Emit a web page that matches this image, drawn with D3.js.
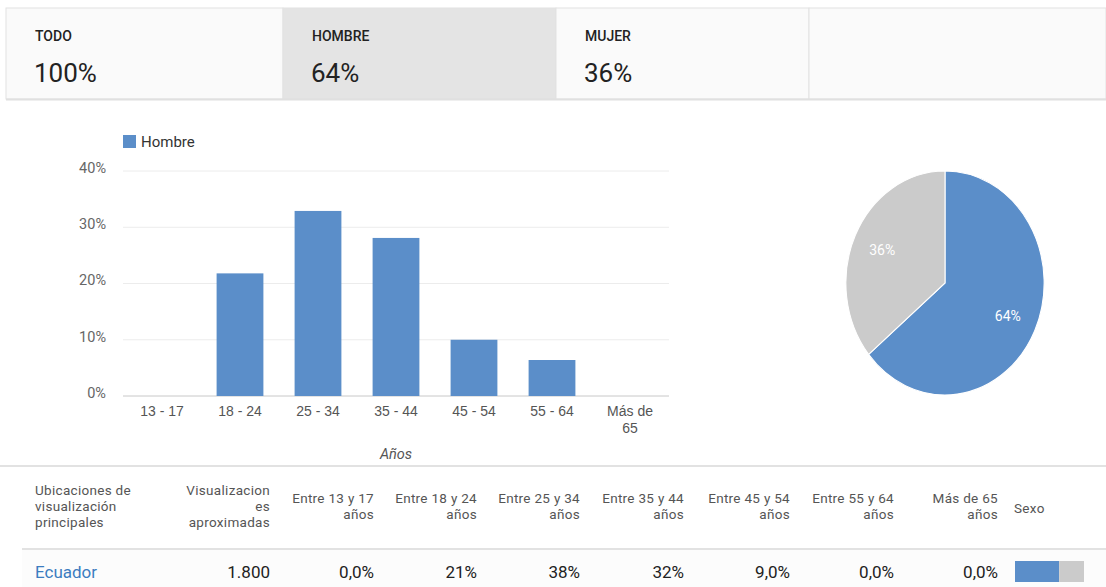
<!DOCTYPE html>
<html>
<head>
<meta charset="utf-8">
<script src="https://cdn.jsdelivr.net/npm/d3@7"></script>
<style>
  html, body { margin: 0; padding: 0; background: #fff; }
  svg { display: block; font-family: Roboto, "Noto Sans", sans-serif; }
</style>
</head>
<body>
<svg id="chart" width="1106" height="587"></svg>
<script>
// Summary tabs
const tabLabels = ["TODO", "HOMBRE", "MUJER", ""];
const tabValues = ["100%", "64%", "36%", ""];

// Age distribution for the selected gender (percent)
const ageGroups = ["13 - 17", "18 - 24", "25 - 34", "35 - 44", "45 - 54", "55 - 64", "Más de 65"];
const hombreShare = [0, 21.8, 32.9, 28.1, 10.0, 6.4, 0];
const yTicks = [0, 10, 20, 30, 40];

// Gender split
const genderNames = ["Hombre", "Mujer"];
const genderShare = [64, 36];

// Table
const tableHeaders = [
  ["Ubicaciones de", "visualización", "principales"],
  ["Visualizacion", "es", "aproximadas"],
  ["Entre 13 y 17", "años"],
  ["Entre 18 y 24", "años"],
  ["Entre 25 y 34", "años"],
  ["Entre 35 y 44", "años"],
  ["Entre 45 y 54", "años"],
  ["Entre 55 y 64", "años"],
  ["Más de 65", "años"],
  ["Sexo"]
];
const tableRow = ["Ecuador", "1.800", "0,0%", "21%", "38%", "32%", "9,0%", "0,0%", "0,0%"];

const BLUE = "#5b8ec9";
const GREY = "#cbcbcb";
const svg = d3.select("#chart");

// ---- Tabs ----
const tabX = [6, 283, 556, 809];
const tabW = [277, 273, 253, 297];
const tabs = svg.append("g");
tabLabels.forEach((lab, i) => {
  const g = tabs.append("g").attr("transform", `translate(${tabX[i]},8)`);
  g.append("rect").attr("width", tabW[i]).attr("height", 91)
    .attr("fill", i === 1 ? "#e4e4e4" : "#fafafa")
    .attr("stroke", "#e2e2e2").attr("stroke-width", 1);
  g.append("text").attr("x", 29).attr("y", 33).attr("font-size", 14)
    .attr("font-weight", 500).attr("fill", "#222").text(lab);
  g.append("text").attr("x", 28).attr("y", 74).attr("font-size", 26)
    .attr("fill", "#222").text(tabValues[i]);
});
tabs.append("line").attr("x1", 6).attr("x2", 1106).attr("y1", 99.5).attr("y2", 99.5)
  .attr("stroke", "#e0e0e0").attr("stroke-width", 2);

// ---- Bar chart ----
const x = d3.scaleBand().domain(ageGroups).range([123, 669]).paddingInner(0.4).paddingOuter(0.2);
const y = d3.scaleLinear().domain([0, 40]).range([396, 171]);
const bar = svg.append("g");

bar.selectAll("line.grid").data(yTicks).join("line")
  .attr("x1", 123).attr("x2", 669)
  .attr("y1", d => y(d)).attr("y2", d => y(d))
  .attr("stroke", d => d === 0 ? "#c8c8c8" : "#ececec").attr("stroke-width", 1);

const yAxis = bar.append("g").attr("transform", "translate(109,0)")
  .call(d3.axisLeft(y).tickValues(yTicks).tickFormat(d => d + "%").tickSize(0));
yAxis.select(".domain").remove();
yAxis.selectAll("text").attr("font-size", 14.5).attr("fill", "#666")
  .attr("font-family", "Roboto, sans-serif").attr("dy", "0.1em");

bar.selectAll("rect.bar").data(ageGroups).join("rect")
  .attr("x", d => x(d)).attr("width", x.bandwidth())
  .attr("y", (d, i) => y(hombreShare[i]))
  .attr("height", (d, i) => y(0) - y(hombreShare[i]))
  .attr("fill", BLUE);

const xAxis = bar.append("g").attr("transform", "translate(0,396)")
  .call(d3.axisBottom(x).tickSize(0).tickFormat(""));
xAxis.select(".domain").remove();
xAxis.selectAll(".tick").each(function (d) {
  const t = d3.select(this).append("text").attr("text-anchor", "middle")
    .attr("font-size", 14).attr("fill", "#555");
  const lines = d === "Más de 65" ? ["Más de", "65"] : [d];
  lines.forEach((l, k) => t.append("tspan").attr("x", 0).attr("y", 20 + k * 17).text(l));
});

bar.append("text").attr("x", x("35 - 44") + x.bandwidth() / 2).attr("y", 459)
  .attr("text-anchor", "middle").attr("font-style", "italic").attr("font-size", 14.5)
  .attr("fill", "#555").text("Años");

// Legend
bar.append("rect").attr("x", 123).attr("y", 135).attr("width", 13).attr("height", 13).attr("fill", BLUE);
bar.append("text").attr("x", 141).attr("y", 147).attr("font-size", 15).attr("fill", "#333").text(genderNames[0]);

// ---- Pie ----
const pieData = d3.pie().sort(null)(genderShare);
const R = 112;
const arc = d3.arc().innerRadius(0).outerRadius(R);
const labelArc = d3.arc().innerRadius(R * 0.7).outerRadius(R * 0.7);
const pie = svg.append("g").attr("transform", "translate(945,283) scale(0.885,1)");
pie.selectAll("path").data(pieData).join("path")
  .attr("d", arc).attr("fill", (d, i) => i === 0 ? BLUE : GREY)
  .attr("stroke", "#fff").attr("stroke-width", 1.2);
pie.selectAll("text").data(pieData).join("text")
  .attr("transform", d => `translate(${labelArc.centroid(d)}) scale(${1 / 0.885},1)`)
  .attr("text-anchor", "middle").attr("dy", "0.35em")
  .attr("font-size", 14).attr("fill", "#fff")
  .text(d => d.data + "%");

// ---- Table ----
const table = svg.append("g");
table.append("line").attr("x1", 0).attr("x2", 1106).attr("y1", 466).attr("y2", 466)
  .attr("stroke", "#e2e2e2").attr("stroke-width", 2);
table.append("line").attr("x1", 22).attr("x2", 1106).attr("y1", 549).attr("y2", 549)
  .attr("stroke", "#e2e2e2").attr("stroke-width", 2);
table.append("rect").attr("x", 22).attr("y", 550).attr("width", 1084).attr("height", 37).attr("fill", "#fcfcfc");

const colRight = [null, 270, 374, 477, 580, 684, 790, 894, 998];
tableHeaders.forEach((lines, i) => {
  const anchor = (i === 0 || i === 9) ? "start" : "end";
  const xx = i === 0 ? 35 : i === 9 ? 1014 : colRight[i];
  const y0 = lines.length === 3 ? 495 : lines.length === 2 ? 503 : 513;
  const t = table.append("text").attr("text-anchor", anchor).attr("font-size", 13.5)
    .attr("letter-spacing", 0.3).attr("fill", "#555");
  lines.forEach((l, k) => t.append("tspan").attr("x", xx).attr("y", y0 + k * 16).text(l));
});

tableRow.forEach((v, i) => {
  table.append("text")
    .attr("x", i === 0 ? 35 : colRight[i]).attr("y", 578)
    .attr("text-anchor", i === 0 ? "start" : "end")
    .attr("font-size", 17).attr("fill", i === 0 ? "#3c7cc0" : "#222").text(v);
});

// Gender mini bar
const sx = d3.scaleLinear().domain([0, 100]).range([1015, 1084]);
let acc = 0;
genderShare.forEach((v, i) => {
  table.append("rect").attr("x", sx(acc)).attr("y", 561).attr("width", sx(acc + v) - sx(acc)).attr("height", 21)
    .attr("fill", i === 0 ? BLUE : GREY);
  acc += v;
});
</script>
</body>
</html>
